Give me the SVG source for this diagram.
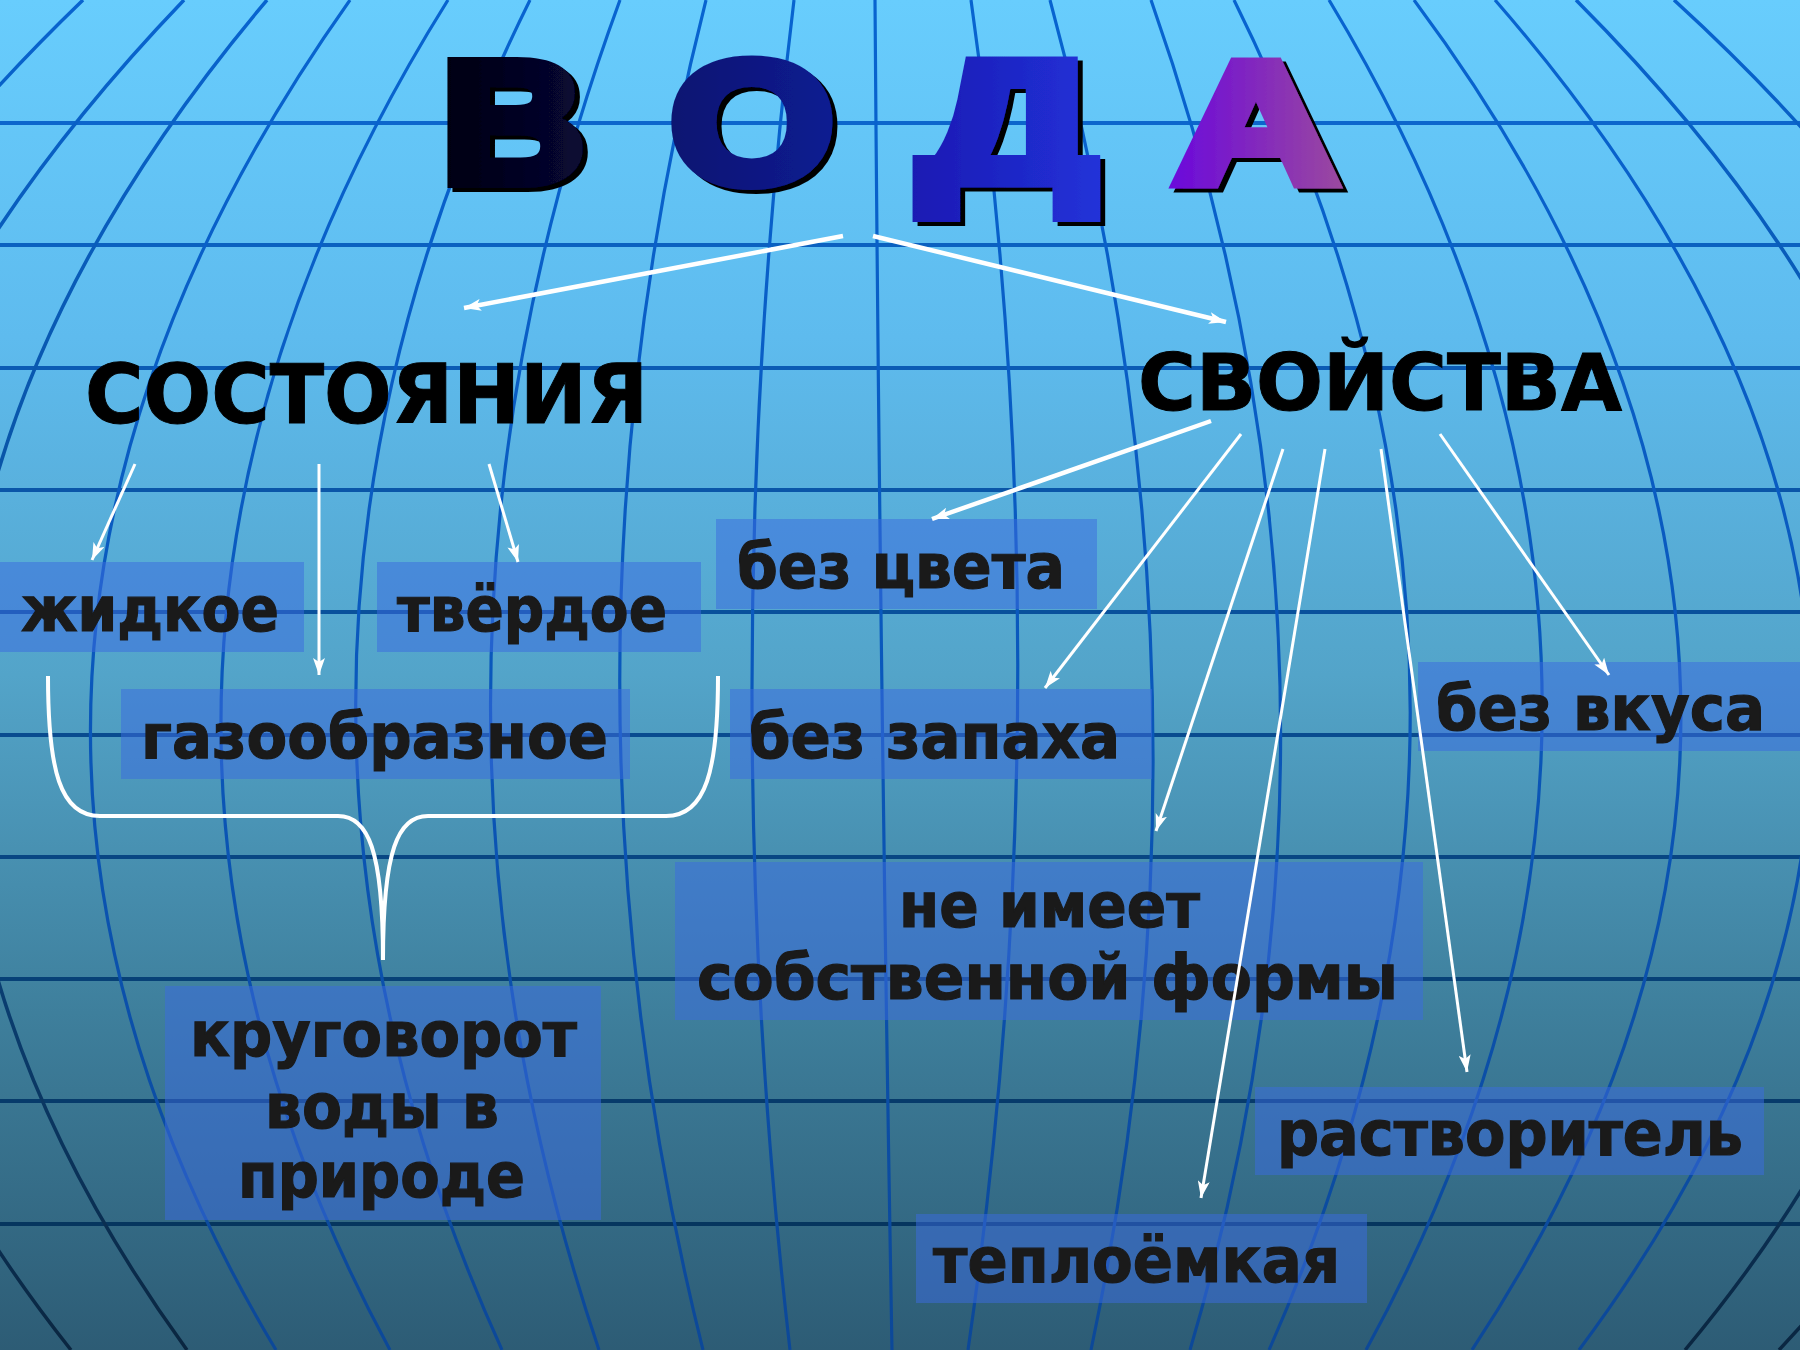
<svg xmlns="http://www.w3.org/2000/svg" width="1800" height="1350" viewBox="0 0 1800 1350">
<defs>
<linearGradient id="bg" x1="0" y1="0" x2="0" y2="1">
<stop offset="0" stop-color="#68cdfd"/>
<stop offset="0.25" stop-color="#5ebbee"/>
<stop offset="0.5" stop-color="#53a4c9"/>
<stop offset="0.75" stop-color="#3e7f9c"/>
<stop offset="1" stop-color="#2d5c75"/>
</linearGradient>
<linearGradient id="vg" gradientUnits="userSpaceOnUse" x1="0" y1="0" x2="0" y2="1350">
<stop offset="0" stop-color="#0864d0"/>
<stop offset="0.5" stop-color="#0a58bc"/>
<stop offset="1" stop-color="#0c4898"/>
</linearGradient>
<linearGradient id="vgd" gradientUnits="userSpaceOnUse" x1="0" y1="0" x2="0" y2="1350">
<stop offset="0" stop-color="#0864d0"/>
<stop offset="0.6" stop-color="#0a4a8a"/>
<stop offset="1" stop-color="#0a2640"/>
</linearGradient>
<linearGradient id="tg" gradientUnits="userSpaceOnUse" x1="440" y1="0" x2="1340" y2="0">
<stop offset="0" stop-color="#00000f"/>
<stop offset="0.16" stop-color="#080834"/>
<stop offset="0.25" stop-color="#0a1470"/>
<stop offset="0.44" stop-color="#0e1c92"/>
<stop offset="0.53" stop-color="#1a1ab4"/>
<stop offset="0.73" stop-color="#2232d8"/>
<stop offset="0.81" stop-color="#6a08dc"/>
<stop offset="1" stop-color="#9a48a0"/>
</linearGradient>
<filter id="sh" x="-10%" y="-10%" width="130%" height="130%">
<feOffset in="SourceAlpha" dx="5" dy="4" result="o"/>
<feFlood flood-color="#000000"/>
<feComposite in2="o" operator="in" result="s"/>
<feMerge><feMergeNode in="s"/><feMergeNode in="SourceGraphic"/></feMerge>
</filter>
<marker id="ah" markerUnits="userSpaceOnUse" markerWidth="18" markerHeight="12" refX="17" refY="6" orient="auto">
<path d="M0,0 L17,6 L0,12 L4,6 z" fill="#ffffff"/>
</marker>
<style>
.mer{fill:none;stroke:url(#vg);stroke-width:3.2}
.merd{fill:none;stroke:url(#vgd);stroke-width:3.5}
.hl{stroke-width:4}
.box{fill:#3c6cde;fill-opacity:0.52}
.lbl{font-family:"DejaVu Sans","Verdana",sans-serif;font-weight:bold;font-size:62px;fill:#1a1a1a;stroke:#1a1a1a;stroke-width:1.2}
.hdr{font-family:"DejaVu Sans","Verdana",sans-serif;font-weight:bold;fill:#000000;stroke:#000000;stroke-width:1}
.tl{font-family:"Liberation Sans",Arial,sans-serif;font-weight:bold;font-size:173px}
.arr{stroke:#ffffff;fill:none;stroke-width:3;marker-end:url(#ah)}
.arrw{stroke-width:4.5}
.brace{stroke:#ffffff;fill:none;stroke-width:4}
</style>
</defs>
<rect x="0" y="0" width="1800" height="1350" fill="url(#bg)"/>
<g id="grid">
<line class="hl" x1="0" y1="123" x2="1800" y2="123" stroke="#0c66cc"/>
<line class="hl" x1="0" y1="245" x2="1800" y2="245" stroke="#0b61c0"/>
<line class="hl" x1="0" y1="368" x2="1800" y2="368" stroke="#0b5bb4"/>
<line class="hl" x1="0" y1="490" x2="1800" y2="490" stroke="#0a56a8"/>
<line class="hl" x1="0" y1="612" x2="1800" y2="612" stroke="#09519c"/>
<line class="hl" x1="0" y1="735" x2="1800" y2="735" stroke="#094b8f"/>
<line class="hl" x1="0" y1="857" x2="1800" y2="857" stroke="#084683"/>
<line class="hl" x1="0" y1="979" x2="1800" y2="979" stroke="#074177"/>
<line class="hl" x1="0" y1="1101" x2="1800" y2="1101" stroke="#073b6b"/>
<line class="hl" x1="0" y1="1224" x2="1800" y2="1224" stroke="#06365f"/>
<path class="merd" d="M83,0 Q-618,675 -40,1350"/>
<path class="merd" d="M184,0 Q-464,675 71,1350"/>
<path class="merd" d="M267,0 Q-303,675 187,1350"/>
<path class="mer" d="M350,0 Q-129,675 276,1350"/>
<path class="mer" d="M448,0 Q25,675 390,1350"/>
<path class="mer" d="M530,0 Q196,675 502,1350"/>
<path class="mer" d="M620,0 Q372,675 599,1350"/>
<path class="mer" d="M706,0 Q535,675 703,1350"/>
<path class="mer" d="M794,0 Q712,675 790,1350"/>
<path class="mer" d="M875,0 Q880,675 892,1350"/>
<path class="mer" d="M971,0 Q1066,675 968,1350"/>
<path class="mer" d="M1050,0 Q1233,675 1091,1350"/>
<path class="mer" d="M1151,0 Q1389,675 1190,1350"/>
<path class="mer" d="M1234,0 Q1568,675 1269,1350"/>
<path class="mer" d="M1329,0 Q1736,675 1366,1350"/>
<path class="mer" d="M1414,0 Q1917,675 1472,1350"/>
<path class="mer" d="M1495,0 Q2083,675 1579,1350"/>
<path class="merd" d="M1576,0 Q2249,675 1685,1350"/>
<path class="merd" d="M1674,0 Q2413,675 1779,1350"/>
</g>
<g id="title" class="tl" fill="url(#tg)" stroke="url(#tg)" stroke-width="12" stroke-linejoin="miter" filter="url(#sh)">
<text x="441" y="182" textLength="144" lengthAdjust="spacingAndGlyphs">В</text>
<text x="670" y="182" textLength="164" lengthAdjust="spacingAndGlyphs">О</text>
<text x="919" y="182" textLength="177" lengthAdjust="spacingAndGlyphs">Д</text>
<text x="1174" y="182" textLength="164" lengthAdjust="spacingAndGlyphs">А</text>
</g>
<g id="node-sostoyaniya">
<text class="hdr" x="85" y="423" font-size="82" textLength="563" lengthAdjust="spacingAndGlyphs">СОСТОЯНИЯ</text>
</g>
<g id="node-svoystva">
<text class="hdr" x="1138" y="410" font-size="79" textLength="484" lengthAdjust="spacingAndGlyphs">СВОЙСТВА</text>
</g>
<g id="node-zhidkoe">
<rect class="box" x="0" y="562" width="304" height="90"/>
<text class="lbl" x="21" y="631" textLength="258" lengthAdjust="spacingAndGlyphs">жидкое</text>
</g>
<g id="node-tverdoe">
<rect class="box" x="377" y="562" width="324" height="90"/>
<text class="lbl" x="397" y="631" textLength="270" lengthAdjust="spacingAndGlyphs">твёрдое</text>
</g>
<g id="node-gazoobraznoe">
<rect class="box" x="121" y="689" width="509" height="90"/>
<text class="lbl" x="141" y="758" textLength="467" lengthAdjust="spacingAndGlyphs">газообразное</text>
</g>
<g id="node-krugovorot">
<rect class="box" x="165" y="986" width="436" height="234"/>
<text class="lbl" x="190" y="1056" textLength="387" lengthAdjust="spacingAndGlyphs">круговорот</text>
<text class="lbl" x="265" y="1128" textLength="234" lengthAdjust="spacingAndGlyphs">воды в</text>
<text class="lbl" x="238" y="1197" textLength="287" lengthAdjust="spacingAndGlyphs">природе</text>
</g>
<g id="node-bez-tsveta">
<rect class="box" x="716" y="519" width="381" height="90"/>
<text class="lbl" x="737" y="588" textLength="328" lengthAdjust="spacingAndGlyphs">без цвета</text>
</g>
<g id="node-bez-zapakha">
<rect class="box" x="730" y="689" width="422" height="90"/>
<text class="lbl" x="749" y="758" textLength="371" lengthAdjust="spacingAndGlyphs">без запаха</text>
</g>
<g id="node-bez-vkusa">
<rect class="box" x="1418" y="662" width="382" height="89"/>
<text class="lbl" x="1436" y="730" textLength="329" lengthAdjust="spacingAndGlyphs">без вкуса</text>
</g>
<g id="node-ne-imeet">
<rect class="box" x="675" y="862" width="748" height="158"/>
<text class="lbl" x="899" y="927" textLength="301" lengthAdjust="spacingAndGlyphs">не имеет</text>
<text class="lbl" x="697" y="999" textLength="701" lengthAdjust="spacingAndGlyphs">собственной формы</text>
</g>
<g id="node-rastvoritel">
<rect class="box" x="1255" y="1087" width="509" height="88"/>
<text class="lbl" x="1277" y="1155" textLength="466" lengthAdjust="spacingAndGlyphs">растворитель</text>
</g>
<g id="node-teploemkaya">
<rect class="box" x="916" y="1214" width="451" height="89"/>
<text class="lbl" x="933" y="1282" textLength="407" lengthAdjust="spacingAndGlyphs">теплоёмкая</text>
</g>
<g id="connectors">
<line class="arr arrw" x1="843" y1="236" x2="464" y2="308"/>
<line class="arr arrw" x1="873" y1="236" x2="1226" y2="322"/>
<line class="arr" x1="135" y1="464" x2="92" y2="560"/>
<line class="arr" x1="319" y1="464" x2="319" y2="675"/>
<line class="arr" x1="489" y1="464" x2="518" y2="562"/>
<line class="arr arrw" x1="1211" y1="421" x2="932" y2="519"/>
<line class="arr" x1="1241" y1="434" x2="1045" y2="688"/>
<line class="arr" x1="1283" y1="449" x2="1156" y2="831"/>
<line class="arr" x1="1325" y1="449" x2="1201" y2="1198"/>
<line class="arr" x1="1381" y1="449" x2="1467" y2="1072"/>
<line class="arr" x1="1440" y1="434" x2="1609" y2="675"/>
<path class="brace" d="M48,676 C48,770 60,816 100,816 L338,816 C368,816 383,850 383,960 C383,850 398,816 428,816 L666,816 C706,816 718,770 718,676"/>
</g>
</svg>
